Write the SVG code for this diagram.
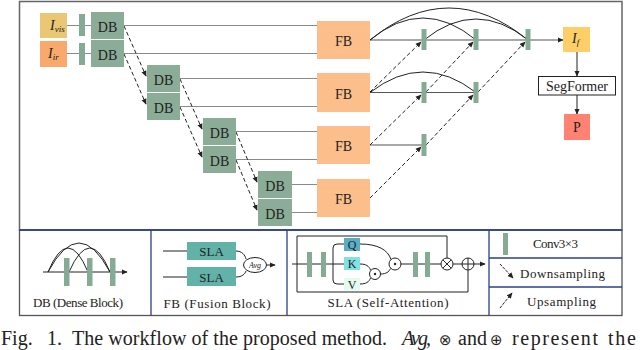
<svg xmlns="http://www.w3.org/2000/svg" width="640" height="350" viewBox="0 0 640 350" font-family="'Liberation Serif', 'Times New Roman', serif">
<style>
text{font-family:'Liberation Serif','Times New Roman',serif;fill:#222}
.db{fill:#8bac96}
.bar{fill:#86ab94}
.fb{fill:#fcbf8b}
.t14{font-size:14px;text-anchor:middle}
.lab{font-size:13px;text-anchor:middle}
.gl{stroke:#8a8a8a;stroke-width:1.2;fill:none}
.dl{stroke:#555;stroke-width:1.1;fill:none}
.ds{stroke:#222;stroke-width:1;fill:none;stroke-dasharray:4 2.5}
.bl{stroke:#2b3f8c;stroke-width:1.3;fill:none}
.k{stroke:#222;stroke-width:1;fill:none}
.cap{font-size:20px}
.sym{font-family:'DejaVu Sans',sans-serif;font-size:15px}
</style>
<defs>
<marker id="ah" viewBox="0 0 8 8" refX="7" refY="4" markerWidth="6" markerHeight="6" markerUnits="userSpaceOnUse" orient="auto"><path d="M0,0.5 L8,4 L0,7.5 Z" fill="#222"/></marker>
</defs>

<g id="frames">
<rect x="19.5" y="1.5" width="602.5" height="228.5" fill="none" stroke="#666" stroke-width="1.5"/>
<rect x="19.5" y="230" width="602.5" height="85.5" fill="none" stroke="#555" stroke-width="1.3"/>
<line x1="19.5" y1="230" x2="622" y2="230" class="bl"/>
<line x1="151" y1="230" x2="151" y2="315.5" class="bl"/>
<line x1="287" y1="230" x2="287" y2="315.5" class="bl"/>
<line x1="489" y1="230" x2="489" y2="315.5" class="bl"/>
<line x1="489" y1="258" x2="622" y2="258" class="bl"/>
<line x1="489" y1="287" x2="622" y2="287" class="bl"/>
</g>

<g id="connectors">
<path class="gl" d="M67,25.5 H91 M67,53.5 H91"/>
<path class="gl" d="M124,25.5 H317 M124,53.5 H317 M180,78.5 H317 M180,106.5 H317 M236,131.5 H317 M236,159.5 H317 M292,184.5 H317 M292,212.5 H317"/>
<path class="ds" d="M124,26 L146,76" marker-end="url(#ah)"/>
<path class="ds" d="M124,54 L146,104" marker-end="url(#ah)"/>
<path class="ds" d="M180,79 L202,129" marker-end="url(#ah)"/>
<path class="ds" d="M180,107 L202,157" marker-end="url(#ah)"/>
<path class="ds" d="M236,132 L257,182" marker-end="url(#ah)"/>
<path class="ds" d="M236,160 L257,210" marker-end="url(#ah)"/>
<path class="dl" d="M370,40 H563" marker-end="url(#ah)"/>
<path class="dl" d="M370,92.5 H476"/>
<path class="dl" d="M370,145 H424"/>
<path class="k" d="M370,40 Q423,-4 476,40"/>
<path class="k" d="M370,40 Q449,-24 528,40"/>
<path class="k" d="M424,40 Q476,-2 528,40"/>
<path class="k" d="M370,92.5 Q423,51.5 476,92.5"/>
<path class="ds" d="M370,92 L421,42" marker-end="url(#ah)"/>
<path class="ds" d="M426,92 L473,42" marker-end="url(#ah)"/>
<path class="ds" d="M478,92 L525,42" marker-end="url(#ah)"/>
<path class="ds" d="M370,145 L421,95" marker-end="url(#ah)"/>
<path class="ds" d="M426,145 L473,95" marker-end="url(#ah)"/>
<path class="ds" d="M370,198 L421,147" marker-end="url(#ah)"/>
<path class="k" d="M577,52 V76" marker-end="url(#ah)"/>
<path class="k" d="M577,95 V114" marker-end="url(#ah)"/>
</g>

<g id="Ivis"><rect x="40" y="13" width="27" height="25" fill="#e9c775"/><text x="50" y="30" font-size="14" font-style="italic">I<tspan font-size="9" dy="2">vis</tspan></text></g>
<g id="Iir"><rect x="40" y="41" width="27" height="26" fill="#f9a96b"/><text x="48" y="58" font-size="14" font-style="italic">I<tspan font-size="9" dy="2">ir</tspan></text></g>
<g id="conv-in"><rect class="bar" x="79" y="14" width="6" height="22"/><rect class="bar" x="79" y="43" width="6" height="22"/></g>

<g id="db1a"><rect class="db" x="91" y="12" width="33" height="27"/><text class="t14" x="107.5" y="31.5">DB</text></g>
<g id="db1b"><rect class="db" x="91" y="40" width="33" height="27"/><text class="t14" x="107.5" y="59.5">DB</text></g>
<g id="db2a"><rect class="db" x="147" y="65" width="33" height="27"/><text class="t14" x="163.5" y="84.5">DB</text></g>
<g id="db2b"><rect class="db" x="147" y="93" width="33" height="27"/><text class="t14" x="163.5" y="112.5">DB</text></g>
<g id="db3a"><rect class="db" x="203" y="118" width="33" height="27"/><text class="t14" x="219.5" y="137.5">DB</text></g>
<g id="db3b"><rect class="db" x="203" y="146" width="33" height="27"/><text class="t14" x="219.5" y="165.5">DB</text></g>
<g id="db4a"><rect class="db" x="258" y="171" width="34" height="27"/><text class="t14" x="275" y="190.5">DB</text></g>
<g id="db4b"><rect class="db" x="258" y="199" width="34" height="27"/><text class="t14" x="275" y="218.5">DB</text></g>

<g id="fb1"><rect class="fb" x="317" y="21" width="53" height="38"/><text class="t14" x="343.5" y="46">FB</text></g>
<g id="fb2"><rect class="fb" x="317" y="73" width="53" height="39"/><text class="t14" x="343.5" y="98.5">FB</text></g>
<g id="fb3"><rect class="fb" x="317" y="126" width="53" height="38"/><text class="t14" x="343.5" y="151">FB</text></g>
<g id="fb4"><rect class="fb" x="317" y="179" width="53" height="38"/><text class="t14" x="343.5" y="204">FB</text></g>

<g id="convs">
<rect class="bar" x="421.5" y="29" width="5" height="21"/>
<rect class="bar" x="473.5" y="29" width="5" height="21"/>
<rect class="bar" x="525.5" y="29" width="5" height="21"/>
<rect class="bar" x="421.5" y="82" width="5" height="21"/>
<rect class="bar" x="473.5" y="82" width="5" height="21"/>
<rect class="bar" x="421.5" y="134" width="5" height="22"/>
</g>

<g id="If"><rect x="563" y="27" width="27" height="25" fill="#fecf68"/><text x="572" y="43" font-size="14" font-style="italic">I<tspan font-size="9" dy="2">f</tspan></text></g>
<g id="segformer"><rect x="538.5" y="76.5" width="77" height="18.5" fill="#fff" stroke="#222" stroke-width="1"/><text class="t14" x="577" y="90.5" textLength="62">SegFormer</text></g>
<g id="P"><rect x="564" y="114" width="26" height="26" fill="#ff8272"/><text class="t14" x="577" y="132">P</text></g>

<g id="legend-db">
<path class="k" d="M43,272 H127" marker-end="url(#ah)"/>
<path class="k" d="M48,272 Q79,214 110,272 M48,272 Q68,224 88,272 M69,272 Q90,224 110,272"/>
<rect class="bar" x="64" y="258" width="5.5" height="28"/>
<rect class="bar" x="87" y="258" width="5.5" height="28"/>
<rect class="bar" x="110" y="258" width="5.5" height="28"/>
<text class="lab" x="78" y="307" textLength="90">DB (Dense Block)</text>
</g>

<g id="legend-fb">
<path class="k" d="M163,251 H187 M163,277 H187"/>
<rect x="187" y="242" width="49" height="18" fill="#62b2a7"/>
<rect x="187" y="267" width="49" height="19" fill="#62b2a7"/>
<text class="lab" x="211.5" y="256">SLA</text>
<text class="lab" x="211.5" y="281.5">SLA</text>
<path class="k" d="M236,251 C242,251 245,255 246,259 M236,277 C242,277 245,274 246,271"/>
<ellipse cx="255" cy="265" rx="11.5" ry="7.5" fill="#fff" stroke="#222" stroke-width="1"/>
<text x="255" y="268" font-size="8" text-anchor="middle" font-style="italic">Avg</text>
<path class="k" d="M266.5,265 H275" marker-end="url(#ah)"/>
<text class="lab" x="217" y="308" textLength="107">FB (Fusion Block)</text>
</g>

<g id="legend-sla">
<path class="k" d="M447,258 V236 H297 V292 H468 V270"/>
<path class="k" d="M292,264 H333 M401,264 H441 M453,264 H462"/>
<path class="k" d="M474,264 H485" marker-end="url(#ah)"/>
<path class="k" d="M344,244 H337 Q333,244 333,248 V280 Q333,284 337,284 H344 M333,264 H344"/>
<rect class="bar" x="307" y="252" width="5" height="25"/>
<rect class="bar" x="321" y="252" width="5" height="25"/>
<rect class="bar" x="413" y="252" width="5" height="25"/>
<rect class="bar" x="425" y="252" width="5" height="25"/>
<rect x="344" y="238" width="16" height="13" fill="#5aaec4"/>
<rect x="344" y="257" width="16" height="13" fill="#80e2e2"/>
<rect x="344" y="278" width="16" height="12.5" fill="#e4fbef"/>
<text x="352" y="249" font-size="12" text-anchor="middle">Q</text>
<text x="352" y="268" font-size="12" text-anchor="middle">K</text>
<text x="352" y="289" font-size="12" text-anchor="middle">V</text>
<path class="k" d="M360,244 C378,244 388,250 391,259.5 M360,264 C366,264 369,266 370.5,270 M360,284 C366,284 369,282 370.5,278 M380.5,274 C386,274 389,272 390.5,268.5"/>
<circle cx="375" cy="274" r="5.5" fill="#fff" stroke="#222" stroke-width="1"/>
<circle cx="375" cy="274" r="1.2" fill="#222"/>
<circle cx="395" cy="264" r="6" fill="#fff" stroke="#222" stroke-width="1"/>
<circle cx="395" cy="264" r="1.2" fill="#222"/>
<circle cx="447" cy="264" r="6" fill="#fff" stroke="#222" stroke-width="1"/>
<path class="k" d="M442.8,259.8 L451.2,268.2 M451.2,259.8 L442.8,268.2"/>
<circle cx="468" cy="264" r="6" fill="#fff" stroke="#222" stroke-width="1"/>
<path class="k" d="M462,264 H474 M468,258 V270"/>
<text class="lab" x="388" y="307" textLength="121">SLA (Self-Attention)</text>
</g>

<g id="legend-sym">
<rect class="bar" x="503" y="233" width="5" height="22"/>
<text class="lab" x="555.5" y="248" textLength="45">Conv3×3</text>
<path class="k" d="M500,264 L513,278" marker-end="url(#ah)" stroke-dasharray="3 1.2"/>
<text x="520" y="277.5" font-size="13" textLength="85">Downsampling</text>
<path class="k" d="M500,308 L512,293" marker-end="url(#ah)" stroke-dasharray="3 1.2"/>
<text class="lab" x="561.5" y="306" textLength="69">Upsampling</text>
</g>

<g id="caption">
<text class="cap" x="1" y="345">Fig.</text>
<text class="cap" x="47" y="345">1.</text>
<text class="cap" x="72" y="345" textLength="315">The workflow of the proposed method.</text>
<text class="cap" x="402" y="345" font-style="italic" textLength="29">Avg,</text>
<text class="sym" x="439" y="345">⊗</text>
<text class="cap" x="458" y="345">and</text>
<text class="sym" x="490" y="345">⊕</text>
<text class="cap" x="512" y="345" textLength="86">represent</text>
<text class="cap" x="608" y="345" textLength="28">the</text>
</g>
</svg>
